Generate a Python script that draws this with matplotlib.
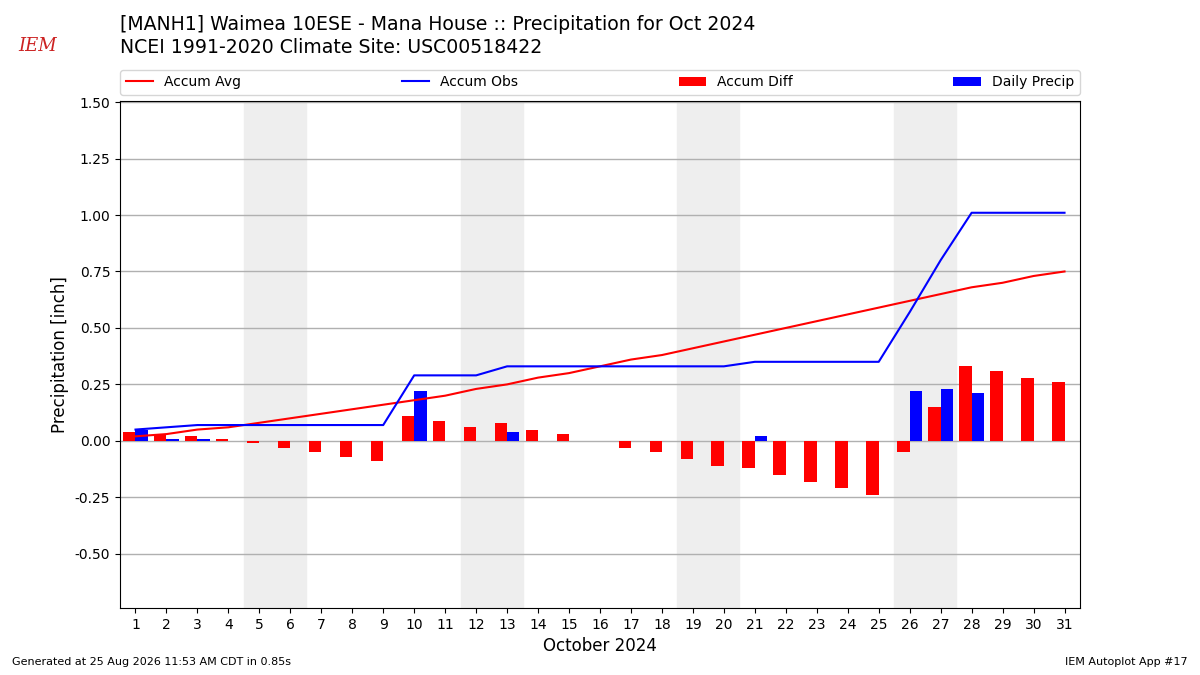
import matplotlib
matplotlib.use("Agg")
import matplotlib.pyplot as plt
import numpy as np

# October 2024 daily data
days = list(range(1, 32))
accum_avg = [0.02, 0.03, 0.05, 0.06, 0.08, 0.10, 0.12, 0.14, 0.16, 0.18,
             0.20, 0.23, 0.25, 0.28, 0.30, 0.33, 0.36, 0.38, 0.41, 0.44,
             0.47, 0.50, 0.53, 0.56, 0.59, 0.62, 0.65, 0.68, 0.70, 0.73, 0.75]
accum_obs = [0.05, 0.06, 0.07, 0.07, 0.07, 0.07, 0.07, 0.07, 0.07, 0.29,
             0.29, 0.29, 0.33, 0.33, 0.33, 0.33, 0.33, 0.33, 0.33, 0.33,
             0.35, 0.35, 0.35, 0.35, 0.35, 0.57, 0.80, 1.01, 1.01, 1.01, 1.01]
accum_diff = [0.04, 0.03, 0.02, 0.01, -0.01, -0.03, -0.05, -0.07, -0.09, 0.11,
              0.09, 0.06, 0.08, 0.05, 0.03, 0.0, -0.03, -0.05, -0.08, -0.11,
              -0.12, -0.15, -0.18, -0.21, -0.24, -0.05, 0.15, 0.33, 0.31, 0.28, 0.26]
daily_precip = [0.05, 0.01, 0.01, 0, 0, 0, 0, 0, 0, 0.22,
                0, 0, 0.04, 0, 0, 0, 0, 0, 0, 0,
                0.02, 0, 0, 0, 0, 0.22, 0.23, 0.21, 0, 0, 0]
weekends = [5, 12, 19, 26]

fig = plt.figure(figsize=(12, 6.75), dpi=100)
ax = fig.add_axes([0.1, 0.0993, 0.8, 0.7511])

x = np.array(days)
for d in weekends:
    ax.axvspan(d - 0.5, d + 1.5, color="#eeeeee", zorder=0)

ax.plot(x, accum_avg, color="r", lw=1.5, label="Accum Avg", zorder=3)
ax.plot(x, accum_obs, color="b", lw=1.5, label="Accum Obs", zorder=3)
ax.bar(x - 0.2, accum_diff, width=0.4, color="r", label="Accum Diff", zorder=2)
ax.bar(x + 0.2, daily_precip, width=0.4, color="b", label="Daily Precip", zorder=2)

ax.set_xlim(0.5, 31.5)
ax.set_ylim(-0.74, 1.505)
ax.set_xticks(days)
ax.set_yticks(np.arange(-0.5, 1.51, 0.25))
ax.yaxis.set_major_formatter(matplotlib.ticker.FormatStrFormatter("%.2f"))
ax.grid(axis="y", color="#b0b0b0", lw=1, zorder=1)
ax.set_axisbelow(True)
ax.tick_params(labelsize=10)
ax.set_ylabel("Precipitation [inch]", fontsize=12)
ax.set_xlabel("October 2024", fontsize=12)

ax.legend(loc="lower left", bbox_to_anchor=(0, 1.012, 1, 0.05), ncol=4,
          mode="expand", fontsize=10, borderaxespad=0)

fig.text(0.1, 0.963, "[MANH1] Waimea 10ESE - Mana House :: Precipitation for Oct 2024",
         fontsize=13.6, va="center")
fig.text(0.1, 0.930, "NCEI 1991-2020 Climate Site: USC00518422",
         fontsize=13.6, va="center")

# rough stand-in for the IEM logo
fig.text(0.031, 0.932, "IEM", color="#cc2222", fontsize=13, style="italic",
         family="DejaVu Serif", ha="center", va="center")

fig.text(0.01, 0.015, "Generated at 25 Aug 2026 11:53 AM CDT in 0.85s", fontsize=8)
fig.text(0.99, 0.015, "IEM Autoplot App #17", fontsize=8, ha="right")

fig.savefig("out.png", dpi=100)
